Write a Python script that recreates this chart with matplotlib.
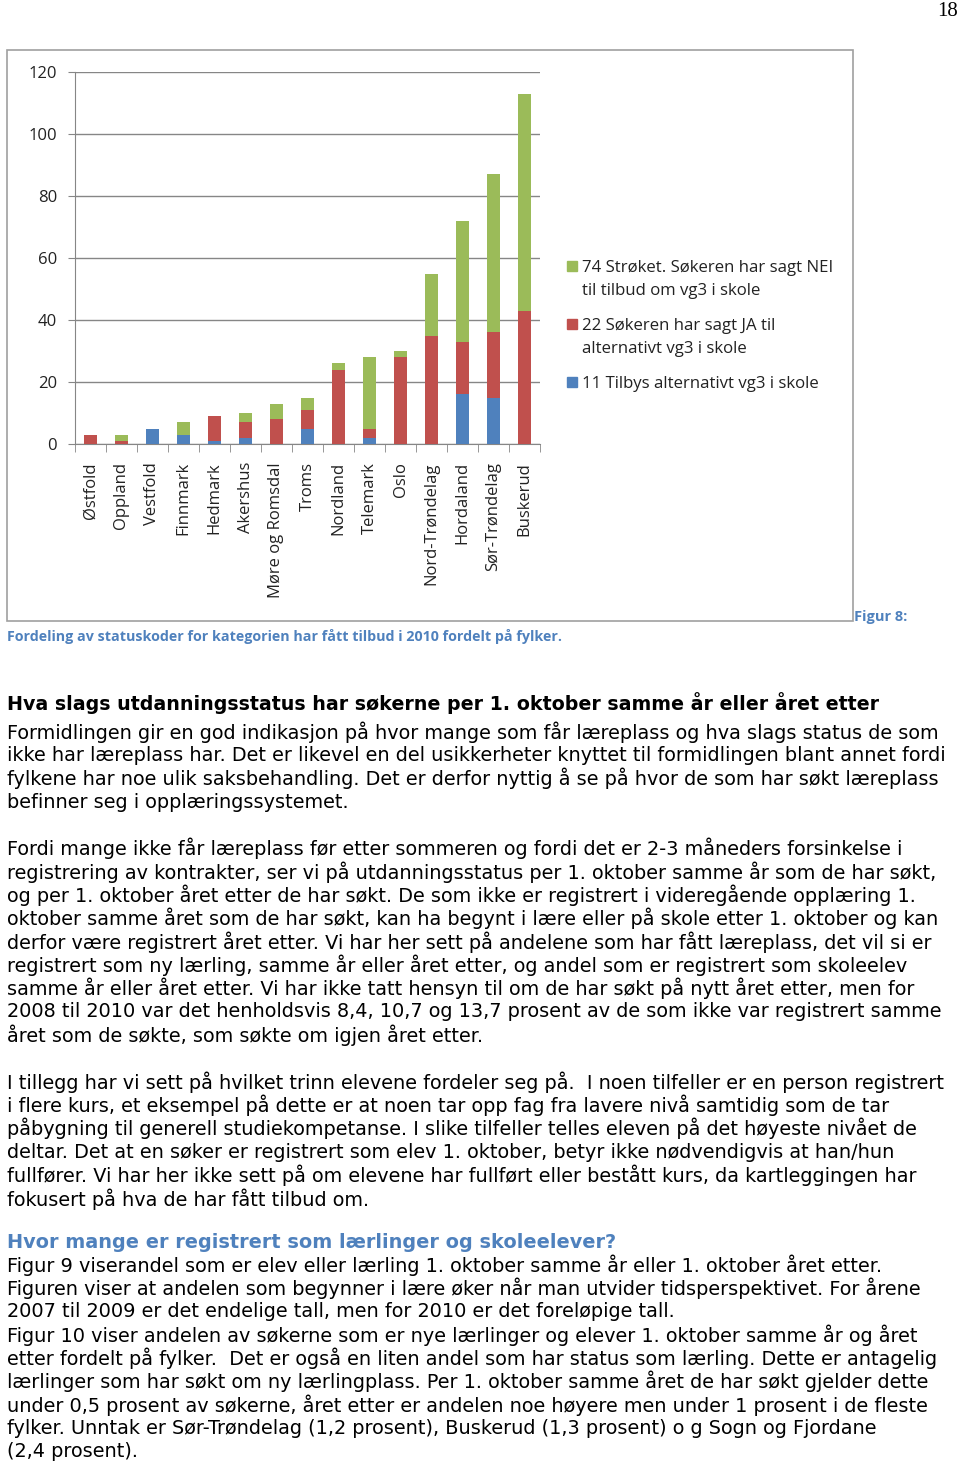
import numpy as np
import matplotlib
matplotlib.use('Agg')
import matplotlib.pyplot as plt
from matplotlib.patches import Rectangle

W, H = 960, 1465

fylker = ['Østfold', 'Oppland', 'Vestfold', 'Finnmark', 'Hedmark', 'Akershus',
          'Møre og Romsdal', 'Troms', 'Nordland', 'Telemark', 'Oslo',
          'Nord-Trøndelag', 'Hordaland', 'Sør-Trøndelag', 'Buskerud']
tilbys_11 = [0, 0, 5, 3, 1, 2, 0, 5, 0, 2, 0, 0, 16, 15, 0]
ja_22 = [3, 1, 0, 0, 8, 5, 8, 6, 24, 3, 28, 35, 17, 21, 43]
nei_74 = [0, 2, 0, 4, 0, 3, 5, 4, 2, 23, 2, 20, 39, 51, 70]
yticks = [0, 20, 40, 60, 80, 100, 120]

labels = ['74 Strøket. Søkeren har sagt NEI\ntil tilbud om vg3 i skole',
          '22 Søkeren har sagt JA til\nalternativt vg3 i skole',
          '11 Tilbys alternativt vg3 i skole']
green, red, blue = '#9bbb59', '#c0504d', '#4f81bd'
cap_blue = '#4f81bd'
grey = '#868686'

para1 = ['Formidlingen gir en god indikasjon på hvor mange som får læreplass og hva slags status de som',
         'ikke har læreplass har. Det er likevel en del usikkerheter knyttet til formidlingen blant annet fordi',
         'fylkene har noe ulik saksbehandling. Det er derfor nyttig å se på hvor de som har søkt læreplass',
         'befinner seg i opplæringssystemet.']
para2 = ['Fordi mange ikke får læreplass før etter sommeren og fordi det er 2-3 måneders forsinkelse i',
         'registrering av kontrakter, ser vi på utdanningsstatus per 1. oktober samme år som de har søkt,',
         'og per 1. oktober året etter de har søkt. De som ikke er registrert i videregående opplæring 1.',
         'oktober samme året som de har søkt, kan ha begynt i lære eller på skole etter 1. oktober og kan',
         'derfor være registrert året etter. Vi har her sett på andelene som har fått læreplass, det vil si er',
         'registrert som ny lærling, samme år eller året etter, og andel som er registrert som skoleelev',
         'samme år eller året etter. Vi har ikke tatt hensyn til om de har søkt på nytt året etter, men for',
         '2008 til 2010 var det henholdsvis 8,4, 10,7 og 13,7 prosent av de som ikke var registrert samme',
         'året som de søkte, som søkte om igjen året etter.']
para3 = ['I tillegg har vi sett på hvilket trinn elevene fordeler seg på.  I noen tilfeller er en person registrert',
         'i flere kurs, et eksempel på dette er at noen tar opp fag fra lavere nivå samtidig som de tar',
         'påbygning til generell studiekompetanse. I slike tilfeller telles eleven på det høyeste nivået de',
         'deltar. Det at en søker er registrert som elev 1. oktober, betyr ikke nødvendigvis at han/hun',
         'fullfører. Vi har her ikke sett på om elevene har fullført eller bestått kurs, da kartleggingen har',
         'fokusert på hva de har fått tilbud om.']
para4 = ['Figur 9 viserandel som er elev eller lærling 1. oktober samme år eller 1. oktober året etter.',
         'Figuren viser at andelen som begynner i lære øker når man utvider tidsperspektivet. For årene',
         '2007 til 2009 er det endelige tall, men for 2010 er det foreløpige tall.',
         'Figur 10 viser andelen av søkerne som er nye lærlinger og elever 1. oktober samme år og året',
         'etter fordelt på fylker.  Det er også en liten andel som har status som lærling. Dette er antagelig',
         'lærlinger som har søkt om ny lærlingplass. Per 1. oktober samme året de har søkt gjelder dette',
         'under 0,5 prosent av søkerne, året etter er andelen noe høyere men under 1 prosent i de fleste',
         'fylker. Unntak er Sør-Trøndelag (1,2 prosent), Buskerud (1,3 prosent) o g Sogn og Fjordane',
         '(2,4 prosent).']

fig = plt.figure(figsize=(W / 100, H / 100), dpi=100)


def fx(px):
    return px / W


def fy(py):
    return 1 - py / H


# chart frame
fig.patches.append(Rectangle((fx(7), fy(621)), fx(853) - fx(7), fy(50) - fy(621),
                             transform=fig.transFigure, fill=False, edgecolor='#a0a0a0', lw=1.2))

ax = fig.add_axes([fx(75), fy(444), fx(540) - fx(75), fy(72) - fy(444)])
x = np.arange(len(fylker))
b1 = np.array(tilbys_11)
b2 = np.array(ja_22)
b3 = np.array(nei_74)
ax.bar(x, b1, width=0.4, color=blue, zorder=3)
ax.bar(x, b2, width=0.4, bottom=b1, color=red, zorder=3)
ax.bar(x, b3, width=0.4, bottom=b1 + b2, color=green, zorder=3)
ax.set_xlim(-0.5, len(fylker) - 0.5)
ax.set_ylim(0, 120)
ax.set_yticks(yticks)
ax.yaxis.grid(True, color=grey, lw=1)
for s in ['top', 'right']:
    ax.spines[s].set_visible(False)
for s in ['left', 'bottom']:
    ax.spines[s].set_color(grey)
ax.set_xticks(x)
ax.set_xticklabels(fylker, rotation=90, family='Open Sans', fontsize=12, color='#222222')
ax.set_xticks(np.arange(len(fylker) + 1) - 0.5, minor=True)
ax.tick_params(axis='x', which='major', length=0, pad=13)
ax.tick_params(axis='x', which='minor', length=6, color=grey)
ax.tick_params(axis='y', length=5, color=grey, labelsize=12, labelcolor='#222222', pad=8)
for t in ax.get_yticklabels():
    t.set_family('Open Sans')

# legend, drawn by hand so the square sits on the first line
for lab, col, ytop in zip(labels, [green, red, blue], [266, 324, 382]):
    fig.patches.append(Rectangle((fx(567), fy(ytop + 5)), fx(10), 10 / H,
                                 transform=fig.transFigure, color=col))
    fig.text(fx(582), fy(ytop - 6), lab, family='Open Sans', fontsize=12.1,
             va='top', linespacing=1.6, color='#222222')

fig.text(fx(958), fy(11), '18', family='Liberation Serif', fontsize=15,
         ha='right', va='center')
fig.text(fx(854), fy(617), 'Figur 8:', family='Open Sans', weight='bold', fontsize=10.5,
         color=cap_blue, va='center')
fig.text(fx(7), fy(637), 'Fordeling av statuskoder for kategorien har fått tilbud i 2010 fordelt på fylker.',
         family='Open Sans', weight='bold', fontsize=10.3, color=cap_blue, va='center')

body = dict(family='DejaVu Sans', fontsize=13.9, va='center', color='black')
fig.text(fx(7), fy(703), 'Hva slags utdanningsstatus har søkerne per 1. oktober samme år eller året etter',
         weight='bold', **dict(body, fontsize=13.65))


def write(lines, y0, step=23.35):
    for i, line in enumerate(lines):
        fig.text(fx(7), fy(y0 + i * step), line, **body)


write(para1, 732)
write(para2, 848.5)
write(para3, 1082)
fig.text(fx(7), fy(1242), 'Hvor mange er registrert som lærlinger og skoleelever?',
         weight='bold', **dict(body, color=cap_blue))
write(para4, 1265)

fig.savefig('out.png', dpi=100)
